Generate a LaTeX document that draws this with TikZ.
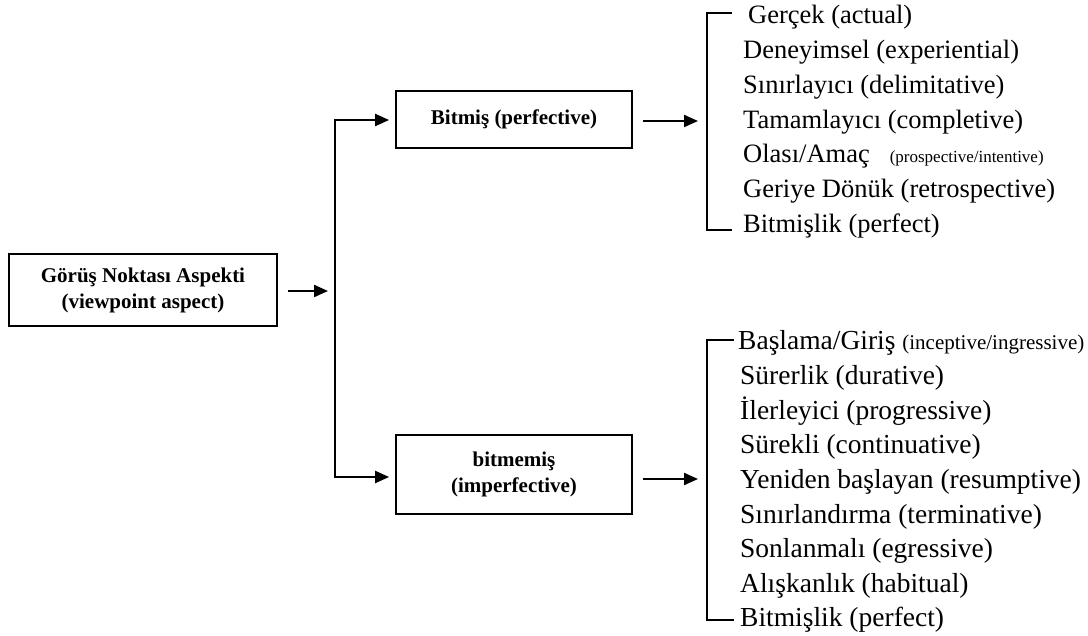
\documentclass[tikz,border=0pt]{standalone}
\usepackage{fontspec}
\setmainfont{Liberation Serif}
\usetikzlibrary{arrows.meta}
\begin{document}
\begin{tikzpicture}[x=1pt,y=-1pt,
  box/.style={draw, line width=1.8pt, align=center, inner sep=0pt,
    font=\fontsize{21}{26}\selectfont\bfseries},
  arr/.style={line width=2.2pt, -{Triangle[length=14pt,width=12pt]}},
  brk/.style={line width=1.5pt},
  item/.style={anchor=base west, inner sep=0pt, font=\fontsize{26.5}{30}\selectfont},
  itemb/.style={item, font=\fontsize{27.5}{31}\selectfont},
]
\useasboundingbox (0,0) rectangle (1088,636);

% main boxes
\node[box, minimum width=268pt, minimum height=72pt] (root) at (143,290)
  {Görüş Noktası Aspekti\\(viewpoint aspect)};
\node[box, minimum width=236pt, minimum height=57pt] (perf) at (514,119.5)
  {Bitmiş (perfective)};
\node[box, minimum width=236pt, minimum height=79pt] (imperf) at (514,474.5)
  {bitmemiş\\(imperfective)};

% branching trunk
\coordinate (jt) at (335,120);
\coordinate (jb) at (335,477);
\coordinate (rm) at (335,291);
\draw[arr, shorten <=10pt, shorten >=7pt] (root.east |- rm) -- (rm);
\draw[arr, shorten >=6pt] (jb) -- (jt) -- (perf.west |- jt);
\draw[arr, shorten >=6pt, line cap=rect] (jb) -- (imperf.west |- jb);

% brackets
\coordinate (pa) at (732,13);
\coordinate (pb) at (707,13);
\coordinate (pc) at (707,230);
\coordinate (pd) at (732,230);
\coordinate (pm) at (707,121);
\draw[brk] (pa) -- (pb) -- (pc) -- (pd);
\draw[arr, shorten <=10pt, shorten >=9pt] (perf.east |- pm) -- (pm);

\coordinate (qa) at (734,340);
\coordinate (qb) at (707,340);
\coordinate (qc) at (707,620);
\coordinate (qd) at (734,620);
\coordinate (qm) at (707,479);
\draw[brk] (qa) -- (qb) -- (qc) -- (qd);
\draw[arr, shorten <=10pt, shorten >=9pt] (imperf.east |- qm) -- (qm);

% perfective subtypes
\node[item] (a1) at (748,24)    {Gerçek (actual)};
\node[item] (a2) at (743,58.7)  {Deneyimsel (experiential)};
\node[item] (a3) at (743,93.4)  {Sınırlayıcı (delimitative)};
\node[item] (a4) at (743,128.1) {Tamamlayıcı (completive)};
\node[item] (a5) at (743,162.8) {Olası/Amaç\hspace{20pt}{\fontsize{17}{20}\selectfont(prospective/intentive)}};
\node[item] (a6) at (743,197.5) {Geriye Dönük (retrospective)};
\node[item] (a7) at (743,232.2) {Bitmişlik (perfect)};

% imperfective subtypes
\node[itemb] (b1) at (738,350)   {Başlama/Giriş {\fontsize{21}{24}\selectfont(inceptive/ingressive)}};
\node[itemb] (b2) at (740,384.6) {Sürerlik (durative)};
\node[itemb] (b3) at (740,419.2) {İlerleyici (progressive)};
\node[itemb] (b4) at (740,453.8) {Sürekli (continuative)};
\node[itemb] (b5) at (740,488.4) {Yeniden başlayan (resumptive)};
\node[itemb] (b6) at (740,523)   {Sınırlandırma (terminative)};
\node[itemb] (b7) at (740,557.6) {Sonlanmalı (egressive)};
\node[itemb] (b8) at (740,592.2) {Alışkanlık (habitual)};
\node[itemb] (b9) at (740,626.8) {Bitmişlik (perfect)};
\end{tikzpicture}
\end{document}
